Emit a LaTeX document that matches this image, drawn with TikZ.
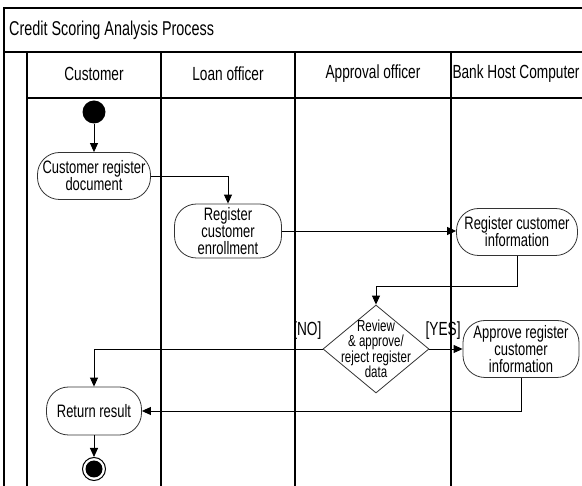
\documentclass[tikz,border=0pt]{standalone}
\usepackage{fontspec}
\setmainfont{Liberation Sans}[FakeStretch=0.72]
\usepackage{tikz}
\usetikzlibrary{arrows.meta}
\usetikzlibrary{shapes.geometric}
\usetikzlibrary{positioning}
\tikzset{
	lane/.style={line width=1.2pt},
	activity/.style={draw=black!80, line width=0.8pt, rectangle, rounded corners=22pt, inner sep=0pt, align=center, font=\fontsize{18}{17}\selectfont},
	decision/.style={draw=black!80, line width=0.8pt, diamond, minimum width=106pt, minimum height=88pt, inner sep=0pt},
	initial/.style={circle, fill=black, minimum size=23pt, inner sep=0pt},
	final/.style={circle, draw, line width=1pt, minimum size=23pt, inner sep=0pt,
		path picture={\fill (path picture bounding box.center) circle (8.5pt);}},
	flow/.style={line width=0.9pt, -{Triangle[length=9pt,width=8pt]}},
	guard/.style={font=\fontsize{19}{16}\selectfont}
}

\begin{document}
\begin{tikzpicture}[x=1pt,y=-1pt]
\useasboundingbox (0,0) rectangle (582,486);
\def\top{8}
\def\titlebot{52}
\def\headbot{98}

%frame of the swimlanes
\draw[lane] (582,\top) -- (4,\top) -- (4,486);
\draw[lane] (4,\titlebot) -- (582,\titlebot);
\draw[lane] (27,\headbot) -- (582,\headbot);
\foreach \x in {27,161,295,451}
	\draw[lane] (\x,\titlebot) -- (\x,486);

%title and lane names
\node[anchor=west, inner sep=0pt, font=\fontsize{20}{20}\selectfont] (title) at (9,30) {Credit Scoring Analysis Process};
\foreach \x/\name/\txt in {94/hcust/Customer, 228/hloan/Loan officer, 373/happr/Approval officer, 516/hbank/Bank Host Computer}
	\node[font=\fontsize{19}{19}\selectfont] (\name) at (\x,74) {\txt};

%activities
\node[initial] (start) at (94,112) {};
\node[activity, minimum width=113pt, minimum height=47pt] (doc) at (94,176) {Customer register\\document};
\node[activity, minimum width=107pt, minimum height=54pt] (enrol) at (228,231) {Register\\customer\\enrollment};
\node[activity, minimum width=121pt, minimum height=47pt] (info) at (517,232) {Register customer\\information};
\node[decision, label={[align=center, font=\fontsize{16}{15.5}\selectfont]center:Review\\\& approve/\\reject register\\data}] (review) at (376,349) {};
\node[activity, minimum width=116pt, minimum height=57pt] (approve) at (521,349) {Approve register\\customer\\information};
\node[activity, minimum width=95pt, minimum height=48pt] (result) at (94,411) {Return result};
\node[final] (end) at (94,469) {};

%control flow
\draw[flow] (start) -- (doc);
\draw[flow] (doc.east) -| (enrol.north);
\draw[flow] (enrol.east) -- (enrol.east -| info.west);
\draw[flow] (info.south) |- ([yshift=18pt]review.north) -- (review.north);
\draw[flow] (review.east) -- (approve.west);
\draw[flow] (review.west) -| (result.north);
\draw[flow] (approve.south) |- (result.east);
\draw[flow] (result) -- (end);

%guards
\node[guard, anchor=south east, inner sep=1pt] (no) at ([yshift=8pt]review.west) {[NO]};
\node[guard, anchor=south west, inner sep=1pt] (yes) at ([xshift=-5pt,yshift=8pt]review.east) {[YES]};
\end{tikzpicture}
\end{document}
